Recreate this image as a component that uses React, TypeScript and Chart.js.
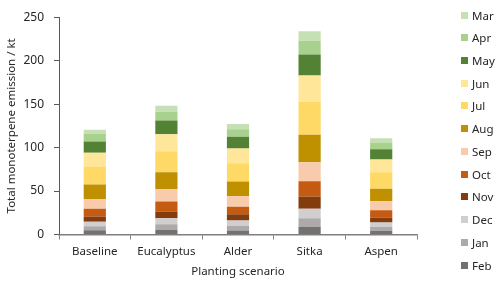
import React, { useEffect, useRef } from "react";
import { Chart, registerables } from "chart.js";

Chart.register(...registerables);

const categories = ["Baseline", "Eucalyptus", "Alder", "Sitka", "Aspen"];

// Stack order bottom -> top
const feb = [5, 5.3, 4.5, 8.7, 4];
const jan = [4.4, 6.4, 5.5, 10, 4.6];
const dec = [5.3, 7, 6.2, 11, 5.2];
const nov = [6, 7.8, 7, 14, 5.9];
const oct = [9, 11.5, 8.7, 17.5, 8.2];
const sep = [11, 14, 12, 22, 10.3];
const aug = [16.8, 19.7, 17, 31.5, 14.3];
const jul = [20.6, 24, 21, 38, 19];
const jun = [15.9, 19.5, 17, 30.3, 14.7];
const may = [13, 16, 13.7, 24, 11.9];
const apr = [8.5, 10, 8.4, 16, 7.8];
const mar = [4.9, 7, 6.2, 10.8, 4.8];

const monthLabels = ["Feb", "Jan", "Dec", "Nov", "Oct", "Sep", "Aug", "Jul", "Jun", "May", "Apr", "Mar"];
const monthValues = [feb, jan, dec, nov, oct, sep, aug, jul, jun, may, apr, mar];
const monthColors = [
  "#767171", "#AEAAAA", "#D0CECE", "#843C0C", "#C55A11", "#F8CBAD",
  "#BF9000", "#FFD966", "#FFE699", "#548235", "#A9D18E", "#C5E0B4",
];

const yTicks = { min: 0, max: 250, step: 50 };
const xTitle = "Planting scenario";
const yTitle = "Total monoterpene emission / kt";

const FONT = "'Noto Sans', sans-serif";
const TEXT = "#262626";

export default function App() {
  const ref = useRef<HTMLCanvasElement | null>(null);

  useEffect(() => {
    if (!ref.current) return;
    const chart = new Chart(ref.current, {
      type: "bar",
      data: {
        labels: categories,
        datasets: monthLabels.map((m, i) => ({
          label: m,
          data: monthValues[i],
          backgroundColor: monthColors[i],
          borderWidth: 0,
          barPercentage: 0.31,
          categoryPercentage: 1,
          stack: "s",
        })),
      },
      options: {
        animation: false,
        responsive: true,
        maintainAspectRatio: false,
        layout: { padding: { top: 10, right: 83, left: 0, bottom: 0 } },
        plugins: { legend: { display: false }, tooltip: { enabled: false } },
        scales: {
          x: {
            stacked: true,
            afterFit: (s: any) => { s.height = 47.5; },
            grid: { drawOnChartArea: false, drawTicks: true, tickLength: 5, color: "#7f7f7f", offset: true },
            border: { display: true, color: "#7f7f7f", width: 1.5 },
            ticks: { color: TEXT, font: { family: FONT, size: 11.5 }, padding: 5, maxRotation: 0 },
            title: { display: true, text: xTitle, color: TEXT, font: { family: FONT, size: 11.5 }, padding: { top: 0, bottom: 3 } },
          },
          y: {
            stacked: true,
            min: yTicks.min,
            max: yTicks.max,
            afterFit: (s: any) => { s.width = 59; },
            grid: { drawOnChartArea: false, drawTicks: true, tickLength: 5, color: "#595959" },
            border: { display: true, color: "#595959", width: 1 },
            ticks: { stepSize: yTicks.step, color: TEXT, font: { family: FONT, size: 12 }, padding: 10 },
            title: { display: true, text: yTitle, color: TEXT, font: { family: FONT, size: 11.5 }, padding: { top: 5, bottom: 0 } },
          },
        },
      },
    });
    return () => chart.destroy();
  }, []);

  const legendOrder = monthLabels.map((m, i) => ({ m, c: monthColors[i] })).reverse();

  return (
    <div style={{ position: "fixed", left: 0, top: 0, width: 500, height: 282, background: "#fff" }}>
      <canvas ref={ref} style={{ position: "absolute", left: 0, top: 0 }} />
      {legendOrder.map((it, i) => (
        <div
          key={it.m}
          style={{
            position: "absolute",
            left: 461,
            top: 15 + i * 22.73 - 10,
            height: 20,
            display: "flex",
            alignItems: "center",
            fontFamily: FONT,
            fontSize: 11.5,
            color: TEXT,
            whiteSpace: "nowrap",
          }}
        >
          <span style={{ display: "inline-block", width: 7, height: 7, background: it.c, marginRight: 4 }} />
          <span>{it.m}</span>
        </div>
      ))}
    </div>
  );
}
